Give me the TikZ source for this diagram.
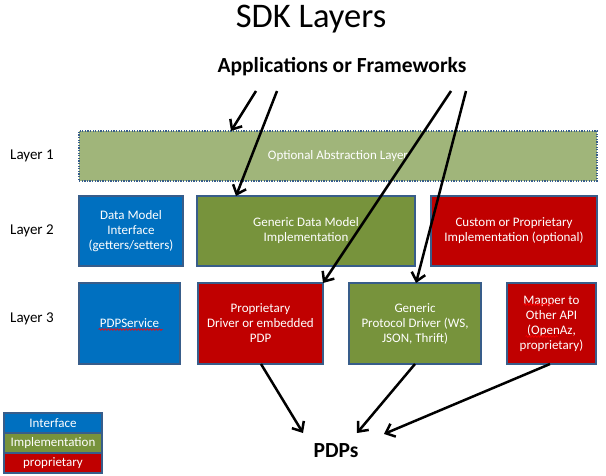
\documentclass[tikz,border=0pt]{standalone}
\usepackage{fontspec}
\setmainfont{Carlito}
\usetikzlibrary{positioning, calc, arrows.meta, decorations.pathmorphing}

\definecolor{ifblue}{HTML}{0070C0}
\definecolor{implgreen}{HTML}{77933C}
\definecolor{propred}{HTML}{C00000}
\definecolor{optgreen}{RGB}{160,181,122}
\definecolor{edgeblue}{HTML}{385D8A}
\definecolor{spellred}{HTML}{FF0000}

\tikzset{
  layerbox/.style={draw=edgeblue, line width=1.5pt, text=white, align=center, inner sep=2pt, outer sep=0pt, font=\fontsize{13}{15}\selectfont},
  ifbox/.style={layerbox, fill=ifblue},
  implbox/.style={layerbox, fill=implgreen},
  propbox/.style={layerbox, fill=propred},
  optbox/.style={layerbox, fill=optgreen, line width=1.3pt, dash pattern=on 1.3pt off 1.3pt},
  legbox/.style={minimum width=98pt, minimum height=20pt},
  layerlbl/.style={font=\fontsize{15}{18}\selectfont, anchor=west, inner sep=0pt},
  flow/.style={-{Straight Barb[length=8pt, width=14pt]}, line width=2.5pt},
  spell/.style={draw=spellred, line width=0.6pt, decorate, decoration={snake, amplitude=0.9pt, segment length=3pt}},
}

\begin{document}
\begin{tikzpicture}[x=1pt, y=-1pt]
  \useasboundingbox (0,0) rectangle (606,476);

  % headings
  \node[font=\fontsize{34.5}{40}\selectfont, anchor=base] (title) at (311,28) {SDK Layers};
  \node[font=\bfseries\fontsize{21.5}{26}\selectfont, anchor=base] (apps) at (342,73) {Applications or Frameworks};

  % layer 1
  \node[optbox, minimum width=518pt, minimum height=50pt, anchor=north west] (opt) at (79,131) {Optional Abstraction Layer};

  % layer 2
  \node[ifbox, minimum width=104pt, minimum height=70pt, below right=15pt and 0pt of opt.south west] (dmi) {Data Model\\Interface\\(getters/setters)};
  \node[implbox, minimum width=218pt, minimum height=70pt, right=14pt of dmi] (gdm) {Generic Data Model\\Implementation};
  \node[propbox, minimum width=166pt, minimum height=70pt, right=16pt of gdm] (cpi) {Custom or Proprietary\\Implementation (optional)};

  % layer 3
  \node[ifbox, minimum width=101pt, minimum height=81pt, below right=17pt and 0pt of dmi.south west] (pdpsvc) {PDPService};
  \node[propbox, minimum width=125pt, minimum height=81pt, right=18pt of pdpsvc] (pdd) {Proprietary\\Driver or embedded\\PDP};
  \node[implbox, minimum width=132pt, minimum height=81pt, right=26pt of pdd] (gpd) {Generic\\Protocol Driver (WS,\\JSON, Thrift)};
  \node[propbox, minimum width=89pt, minimum height=81pt, right=26pt of gpd] (mapr) {Mapper to\\Other API\\(OpenAz,\\proprietary)};

  % spell-check marks
  \draw[spell] ($(pdpsvc.center)+(-31,6)$) -- ++(64,0);
  \draw[spell] ($(mapr.center)+(-28,-19)$) -- ++(30,0);
  \draw[spell] ($(mapr.center)+(-26,13)$) -- ++(32,0);

  % layer labels
  \coordinate (lblx) at (10,0);
  \node[layerlbl] (lay1) at (opt.west -| lblx) {Layer 1};
  \node[layerlbl] (lay2) at (dmi.west -| lblx) {Layer 2};
  \node[layerlbl] (lay3) at ($(pdpsvc.west -| lblx)+(0,-5)$) {Layer 3};

  % legend
  \node[ifbox, legbox, anchor=north west] (leg1) at (4,413) {Interface};
  \node[implbox, legbox, below=0pt of leg1] (leg2) {Implementation};
  \node[propbox, legbox, below=0pt of leg2] (leg3) {proprietary};

  \node[font=\bfseries\fontsize{21.5}{26}\selectfont, anchor=base] (pdps) at (336,457) {PDPs};

  % arrows
  \coordinate (s1) at (256,91);
  \coordinate (s2) at (277,91);
  \coordinate (s3) at (451,91);
  \coordinate (s4) at (466,91);
  \coordinate (t5) at (303,433);
  \coordinate (t6) at (357,433);
  \coordinate (t7) at (384,434);
  \draw[flow] (s1) -- ($(opt.north west)+(152,0)$);
  \draw[flow] (s2) -- ($(gdm.north west)+(39,0)$);
  \draw[flow] (s3) -- (pdd.north east);
  \draw[flow] (s4) -- ($(gpd.north west)+(67,0)$);
  \draw[flow] ($(pdd.south west)+(63,0)$) -- (t5);
  \draw[flow] ($(gpd.south west)+(66,0)$) -- (t6);
  \draw[flow] ($(mapr.south west)+(43,0)$) -- (t7);
\end{tikzpicture}
\end{document}
